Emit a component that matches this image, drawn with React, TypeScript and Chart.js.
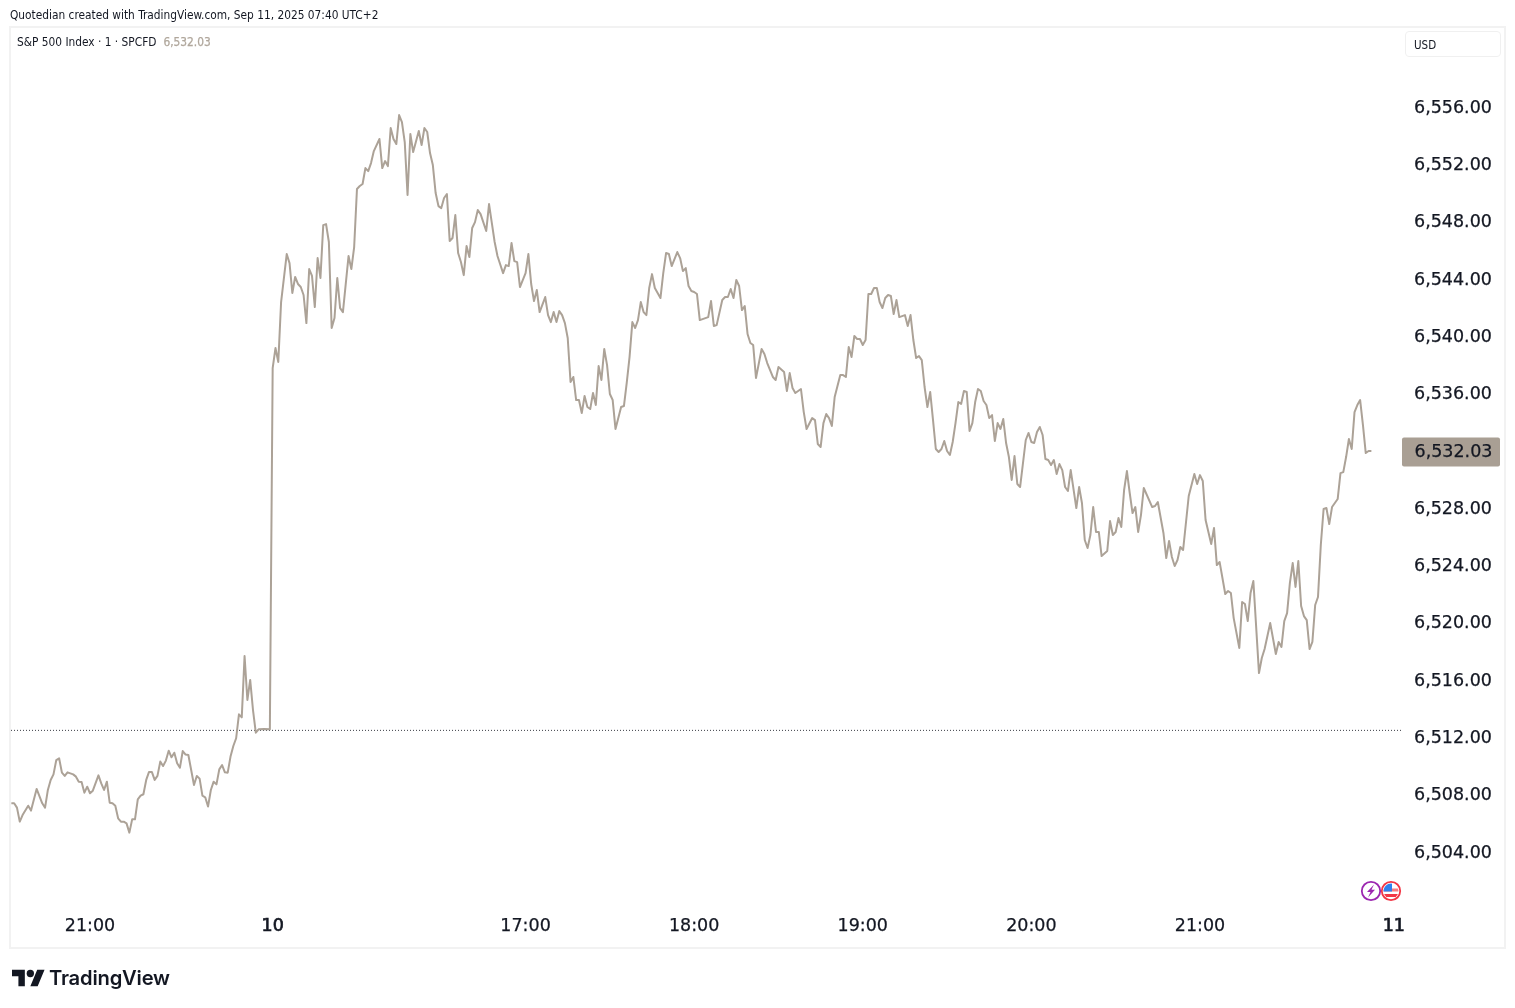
import React, { useEffect, useRef } from "react";
import { Chart, registerables } from "chart.js";

Chart.register(...registerables);

const minutes = [
  0, 1, 2, 3, 4, 6, 7, 9, 11, 12,
  13, 14, 15, 16, 17, 18, 19, 20, 22, 23,
  24, 25, 26, 27, 28, 29, 31, 32, 33, 34,
  35, 36, 37, 38, 39, 40, 41, 42, 43, 44,
  45, 46, 47, 48, 49, 50, 51, 52, 53, 54,
  55, 56, 57, 58, 59, 60, 61, 62, 63, 64,
  65, 66, 67, 68, 69, 70, 71, 72, 73, 74,
  75, 76, 77, 78, 79, 80, 81, 82, 83, 84,
  85, 86, 87, 88, 90, 92,
  93, 94, 95, 96, 98, 99, 100, 101, 102, 103,
  104, 105, 106, 107, 108, 109, 110, 111, 112, 113,
  114, 115, 116, 117, 118, 120, 121, 122, 123, 124,
  125, 126, 127, 128, 129, 131, 132, 133, 134, 135,
  136, 137, 138, 139, 140, 141, 142, 143, 145, 146,
  147, 148, 149, 150, 151, 152, 153, 154, 155, 156,
  157, 158, 159, 160, 161, 162, 163, 164, 165, 166,
  167, 169, 170, 171, 172, 173, 175, 176, 177, 178,
  179, 180, 181, 183, 184, 185, 186, 187, 188, 190,
  191, 192, 193, 194, 195, 196, 197, 198, 199, 200,
  201, 202, 203, 204, 205, 206, 207, 208, 209, 210,
  211, 212, 213, 214, 215, 217, 218, 219, 220, 221,
  222, 223, 224, 225, 226, 227, 228, 229, 231, 232,
  233, 234, 235, 237, 238, 239, 240, 241, 242, 243,
  244, 245, 246, 248, 249, 250, 251, 253, 254, 255,
  256, 257, 258, 259, 260, 261, 262, 263, 264, 265,
  267, 268, 269, 271, 272, 273, 275, 276, 277, 278,
  279, 281, 282, 283, 285, 286, 287, 288, 289, 290,
  291, 292, 293, 295, 296, 297, 298, 299, 300, 301,
  302, 303, 304, 305, 306, 307, 308, 309, 310, 311,
  312, 313, 314, 315, 316, 318, 319, 320, 321, 322,
  323, 324, 325, 326, 327, 328, 329, 330, 331, 332,
  333, 334, 335, 336, 337, 338, 339, 340, 341, 342,
  343, 344, 345, 346, 347, 348, 349, 350, 351, 352,
  353, 354, 355, 356, 357, 358, 359, 361, 362, 363,
  364, 365, 366, 367, 368, 369, 370, 371, 372, 373,
  374, 375, 376, 377, 379, 380, 381, 382, 383, 384,
  385, 386, 387, 388, 390, 391, 392, 393, 394, 395,
  396, 397, 398, 399, 400, 401, 402, 403, 406, 407,
  408, 410, 411, 412, 413, 414, 415, 416, 417, 419,
  421, 422, 423, 424, 425, 427, 428, 429, 430, 432,
  433, 434, 435, 437, 438, 439, 440, 441, 442, 444,
  445, 446, 448, 450, 451, 452, 453, 454, 455, 456,
  457, 458, 459, 460, 461, 462, 463, 464, 465, 466,
  467, 468, 469, 470, 472, 473, 474, 475, 476, 477,
  478, 479, 480, 481, 482, 483, 484,
];

const prices = [
  6507.33, 6507.33, 6507.03, 6506.05, 6506.51, 6507.16, 6506.82, 6508.33, 6507.33, 6507.03,
  6508.26, 6508.96, 6509.35, 6510.35, 6510.47, 6509.47, 6509.24, 6509.49, 6509.35, 6509.19,
  6508.84, 6508.82, 6508.07, 6508.49, 6508.03, 6508.21, 6509.28, 6508.72, 6508.26, 6508.84,
  6507.37, 6507.33, 6507.16, 6506.28, 6506.05, 6506.05, 6505.93, 6505.28, 6506.21, 6506.21,
  6507.61, 6507.86, 6507.96, 6508.96, 6509.52, 6509.52, 6508.96, 6509.24, 6510.24, 6509.93,
  6510.31, 6511.0, 6510.54, 6510.86, 6510.12, 6509.82, 6510.98, 6510.73, 6510.7, 6509.65,
  6508.61, 6509.24, 6509.05, 6507.86, 6507.75, 6507.1, 6508.26, 6508.84, 6508.65, 6509.7,
  6510.0, 6509.49, 6509.47, 6510.59, 6511.33, 6511.87, 6513.54, 6513.33, 6517.61, 6514.54,
  6515.94, 6513.84, 6512.26, 6512.49, 6512.52, 6512.49,
  6537.71, 6539.11, 6538.13, 6542.32, 6545.67, 6545.04, 6542.95, 6544.07, 6543.58, 6543.37,
  6542.81, 6540.85, 6544.62, 6544.14, 6541.97, 6545.39, 6544.0, 6547.69, 6547.76, 6546.51,
  6540.51, 6541.2, 6544.0, 6541.9, 6541.62, 6545.53, 6544.62, 6546.16, 6550.21, 6550.42,
  6550.56, 6551.67, 6551.46, 6552.02, 6552.86, 6553.7, 6551.67, 6552.16, 6551.81, 6554.47,
  6553.7, 6553.35, 6555.37, 6554.88, 6553.49, 6549.79, 6554.05, 6552.79, 6554.26, 6553.28,
  6554.47, 6554.19, 6552.72, 6551.88, 6549.93, 6549.02, 6548.88, 6549.58, 6549.86, 6546.58,
  6546.79, 6548.39, 6545.74, 6545.11, 6544.2, 6546.23, 6545.46, 6547.49, 6547.9, 6548.74,
  6548.46, 6547.28, 6549.16, 6547.83, 6546.51, 6545.53, 6544.34, 6544.9, 6544.83, 6546.44,
  6545.18, 6545.11, 6543.37, 6544.34, 6545.67, 6543.58, 6542.39, 6543.16, 6541.62, 6542.67,
  6541.41, 6540.92, 6541.62, 6540.92, 6541.69, 6541.41, 6540.85, 6539.81, 6536.74, 6537.09,
  6535.48, 6535.48, 6534.57, 6535.76, 6534.99, 6534.85, 6535.97, 6535.13, 6537.85, 6536.88,
  6539.04, 6537.92, 6535.9, 6535.48, 6533.46, 6534.99, 6535.06, 6536.67, 6538.48, 6540.92,
  6540.51, 6541.06, 6542.32, 6541.62, 6541.41, 6543.3, 6544.27, 6543.3, 6542.6, 6544.34,
  6545.74, 6545.67, 6544.83, 6545.81, 6545.39, 6544.48, 6544.69, 6543.44, 6543.09, 6543.02,
  6542.88, 6541.06, 6541.13, 6541.27, 6542.39, 6540.65, 6540.71, 6542.46, 6542.67, 6542.67,
  6543.23, 6542.6, 6543.86, 6543.44, 6541.76, 6542.04, 6540.09, 6539.46, 6539.32, 6537.02,
  6539.04, 6538.69, 6538.06, 6537.09, 6536.88, 6537.78, 6537.43, 6536.11, 6537.36, 6536.32,
  6535.97, 6536.25, 6534.64, 6533.46, 6534.22, 6534.08, 6532.41, 6532.2, 6533.87, 6534.5,
  6534.22, 6533.67, 6535.69, 6537.22, 6537.22, 6537.09, 6539.18, 6538.48, 6539.95, 6539.74,
  6539.74, 6539.32, 6539.67, 6542.88, 6542.88, 6543.3, 6543.3, 6542.32, 6541.9, 6542.6,
  6542.81, 6542.74, 6541.48, 6542.46, 6541.27, 6541.41, 6540.65, 6541.41, 6539.67, 6538.41,
  6538.55, 6538.27, 6536.39, 6534.99, 6536.04, 6534.08, 6532.06, 6531.85, 6532.06, 6532.62,
  6531.92, 6531.64, 6532.55, 6533.87, 6535.34, 6535.2, 6536.11, 6536.04, 6533.32, 6533.87,
  6535.34, 6536.25, 6536.11, 6535.41, 6535.13, 6534.22, 6534.43, 6532.62, 6533.87, 6533.46,
  6534.15, 6532.48, 6531.5, 6529.9, 6531.57, 6529.62, 6529.41, 6532.69, 6533.18, 6532.55,
  6532.48, 6533.25, 6533.6, 6533.04, 6531.36, 6531.29, 6530.94, 6531.29, 6530.31, 6531.01,
  6530.59, 6529.41, 6529.13, 6530.59, 6527.94, 6529.41, 6528.29, 6525.71, 6525.15, 6526.06,
  6528.01, 6526.27, 6526.27, 6524.59, 6524.94, 6527.03, 6526.06, 6526.27, 6527.24, 6526.62,
  6529.2, 6530.52, 6528.99, 6527.59, 6528.01, 6526.27, 6527.45, 6529.34, 6528.01, 6528.08,
  6528.36, 6526.2, 6524.45, 6525.64, 6524.52, 6523.89, 6524.31, 6525.22, 6525.01, 6528.78,
  6530.31, 6529.62, 6530.24, 6529.83, 6527.1, 6525.43, 6526.55, 6523.96, 6524.17, 6521.94,
  6522.15, 6522.01, 6520.26, 6518.17, 6521.38, 6521.24, 6520.05, 6522.01, 6522.85, 6516.42,
  6517.47, 6518.1, 6519.91, 6517.75, 6518.59, 6518.24, 6520.05, 6520.61, 6522.71, 6524.1,
  6522.43, 6524.24, 6521.1, 6520.4, 6520.12, 6518.1, 6518.59, 6521.17, 6521.73, 6525.36,
  6527.87, 6527.94, 6526.82, 6528.01, 6528.57, 6530.38, 6530.45, 6531.5, 6532.76, 6532.06,
  6534.64, 6535.13, 6535.48, 6533.73, 6531.78, 6531.92, 6531.92,
];

const priceTicks = [6504, 6508, 6512, 6516, 6520, 6524, 6528, 6536, 6540, 6544, 6548, 6552, 6556];
const timeTickMinutes = [28, 93, 183, 243, 303, 363, 423, 492];
const timeTickLabels = ["21:00", "10", "17:00", "18:00", "19:00", "20:00", "21:00", "11"];
const dayTickLabels = ["10", "11"];
const previousClose = 6512.42;
const lastPriceText = "6,532.03";
const headerText = "Quotedian created with TradingView.com, Sep 11, 2025 07:40 UTC+2";
const legendText = "S&P 500 Index · 1 · SPCFD";
const currencyText = "USD";

const LINE = "#aca297";
const INK = "#131722";
const AXIS_FONT = "'DejaVu Sans'";
const UI_FONT = "'DejaVu Sans Condensed', 'DejaVu Sans', sans-serif";

const formatPrice = (v: number) =>
  v.toLocaleString("en-US", { minimumFractionDigits: 2, maximumFractionDigits: 2 });

const isDayTick = (ctx: any) =>
  dayTickLabels.includes(timeTickLabels[timeTickMinutes.indexOf(ctx.tick?.value)]);

const lastPriceLabel = {
  id: "lastPriceLabel",
  afterDraw(chart: any) {
    const { ctx, scales } = chart;
    const y = scales.y.getPixelForValue(prices[prices.length - 1]) + 1;
    ctx.save();
    ctx.fillStyle = "#a99f94";
    ctx.beginPath();
    ctx.roundRect(1402, y - 14.5, 98, 29, 2);
    ctx.fill();
    ctx.fillStyle = INK;
    ctx.strokeStyle = INK;
    ctx.lineWidth = 0.25;
    ctx.font = `17.5px ${AXIS_FONT}`;
    ctx.textBaseline = "middle";
    ctx.textAlign = "left";
    ctx.fillText(lastPriceText, 1414.5, y);
    ctx.strokeText(lastPriceText, 1414.5, y);
    ctx.restore();
  },
};

function Icons() {
  return (
    <svg width={44} height={24} style={{ position: "absolute", left: 1359, top: 879 }} viewBox="0 0 44 24">
      <defs>
        <clipPath id="flagClip">
          <circle cx={32} cy={12} r={7.5} />
        </clipPath>
      </defs>
      <circle cx={12} cy={12} r={9.2} fill="#fff" stroke="#9c27b0" strokeWidth={1.8} />
      <path d="M15 5.5 L8 13 H11.5 L9 18.5 L16 10.8 H12.5 Z" fill="#9c27b0" />
      <circle cx={32} cy={12} r={9.2} fill="#fff" stroke="#f23645" strokeWidth={1.8} />
      <g clipPath="url(#flagClip)">
        <rect x={24} y={4} width={16} height={16} fill="#fff" />
        <rect x={24} y={9.5} width={16} height={3} fill="#f77c80" />
        <rect x={24} y={15} width={16} height={3} fill="#f23645" />
        <rect x={24} y={4} width={9} height={8.5} fill="#2f80ed" />
      </g>
    </svg>
  );
}

function Logo() {
  return (
    <div style={{ position: "absolute", left: 12, top: 962 }}>
      <svg width={33} height={28} viewBox="0 0 36 28" style={{ position: "absolute", left: 0, top: 3 }} fill="#131722">
        <path d="M14 22H7V11H0V4h14v18zM28 22h-8l7.5-18h8L28 22z" />
        <circle cx={20} cy={8} r={4} />
      </svg>
      <span
        style={{
          position: "absolute",
          left: 37,
          top: 3,
          font: "600 20.2px Inter, sans-serif",
          color: INK,
          whiteSpace: "nowrap",
          letterSpacing: "-0.2px",
        }}
      >
        TradingView
      </span>
    </div>
  );
}

export default function App() {
  const canvasRef = useRef<HTMLCanvasElement | null>(null);

  useEffect(() => {
    const canvas = canvasRef.current;
    if (!canvas) return;
    const chart = new Chart(canvas, {
      type: "line",
      plugins: [lastPriceLabel],
      data: {
        datasets: [
          {
            label: "Previous close",
            data: [
              { x: -0.12, y: previousClose },
              { x: 494.54, y: previousClose },
            ],
            borderColor: "#3a3d45",
            borderWidth: 1,
            borderDash: [1, 2],
            pointRadius: 0,
            order: 2,
          },
          {
            label: "S&P 500 Index",
            data: minutes.map((m, i) => ({ x: m, y: prices[i] })),
            borderColor: LINE,
            borderWidth: 2,
            borderJoinStyle: "round",
            pointRadius: 0,
            tension: 0,
            order: 1,
          },
        ],
      },
      options: {
        responsive: false,
        animation: false,
        parsing: false as any,
        layout: { padding: { left: 11, top: 28, right: 0, bottom: 63 } },
        plugins: { legend: { display: false }, tooltip: { enabled: false }, title: { display: false } },
        scales: {
          x: {
            type: "linear",
            min: -0.12,
            max: 494.54,
            grid: { display: false },
            border: { display: false },
            afterBuildTicks(axis: any) {
              axis.ticks = timeTickMinutes.map((value) => ({ value }));
            },
            afterFit(axis: any) {
              axis.height = 40;
            },
            ticks: {
              autoSkip: false,
              maxRotation: 0,
              padding: 3,
              color: INK,
              font: { family: AXIS_FONT, size: 17.5 },
              textStrokeColor: INK,
              textStrokeWidth: (ctx: any) => (isDayTick(ctx) ? 0.7 : 0.25),
              callback: (value: any) => timeTickLabels[timeTickMinutes.indexOf(value)] ?? "",
            },
          },
          y: {
            type: "linear",
            position: "right",
            min: 6500.23,
            max: 6561.45,
            grid: { display: false },
            border: { display: false },
            afterBuildTicks(axis: any) {
              axis.ticks = priceTicks.map((value) => ({ value }));
            },
            afterFit(axis: any) {
              axis.width = 114;
            },
            ticks: {
              autoSkip: false,
              padding: 5,
              labelOffset: 2,
              color: INK,
              textStrokeColor: INK,
              textStrokeWidth: 0.25,
              font: { family: AXIS_FONT, size: 17.5 },
              callback: (value: any) => formatPrice(Number(value)),
            },
          },
        },
      },
    } as any);
    return () => chart.destroy();
  }, []);

  return (
    <div
      style={{
        position: "absolute",
        left: 0,
        top: 0,
        width: 1515,
        height: 1008,
        overflow: "hidden",
        background: "#fff",
      }}
    >
      <div
        style={{
          position: "absolute",
          left: 9,
          top: 26,
          width: 1497,
          height: 923,
          boxSizing: "border-box",
          border: "2px solid #f2f2f2",
        }}
      />
      <canvas
        ref={canvasRef}
        width={1515}
        height={1008}
        style={{ position: "absolute", left: 0, top: 0, display: "block" }}
      />
      <div
        style={{
          position: "absolute",
          left: 10,
          top: 8,
          font: `11.8px ${UI_FONT}`,
          color: INK,
          whiteSpace: "nowrap",
        }}
      >
        {headerText}
      </div>
      <div
        style={{
          position: "absolute",
          left: 17,
          top: 35,
          font: `11.8px ${UI_FONT}`,
          color: INK,
          whiteSpace: "nowrap",
        }}
      >
        {legendText}
        <span style={{ marginLeft: 7, color: "#b0a79c", WebkitTextStroke: "0.25px #b0a79c" }}>{lastPriceText}</span>
      </div>
      <div
        style={{
          position: "absolute",
          left: 1405,
          top: 31,
          width: 96,
          height: 26,
          boxSizing: "border-box",
          border: "1px solid #f0f0f0",
          borderRadius: 4,
          font: `11.5px ${UI_FONT}`,
          color: INK,
          lineHeight: "26px",
          paddingLeft: 8,
        }}
      >
        {currencyText}
      </div>
      <Icons />
      <Logo />
    </div>
  );
}
